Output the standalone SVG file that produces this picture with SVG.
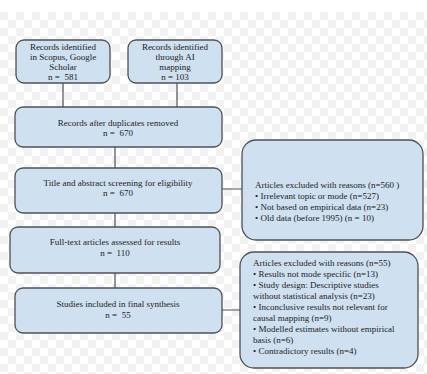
<svg xmlns="http://www.w3.org/2000/svg" width="427" height="374" viewBox="0 0 427 374">
<style>
.box{fill:#cfe0f1;stroke:#4d5257;stroke-width:1.3}
.t{font-family:"Liberation Serif","Times New Roman",serif;font-size:9px;fill:#222}
.c{text-anchor:middle}
.ln{stroke:#4d5257;stroke-width:1.2;fill:none}
</style>
<defs>
<pattern id="chk" width="16" height="16" patternUnits="userSpaceOnUse" y="12">
<rect width="16" height="16" fill="#ffffff"/>
<rect width="8" height="8" fill="#f2f2f2"/>
<rect x="8" y="8" width="8" height="8" fill="#f2f2f2"/>
</pattern>
</defs>
<rect width="427" height="374" fill="#ffffff"/>
<rect y="12" width="427" height="362" fill="url(#chk)"/>
<g id="connectors">
<path class="ln" d="M63 83V107M177 83V107M115 147V168M115 213V227M115 273V288M222 189H242M222 310H240"/>
</g>
<g id="n1">
<rect class="box" x="16" y="40" width="94" height="43" rx="8"/>
<text class="t c" x="63" y="50">Records identified</text>
<text class="t c" x="63" y="60">in Scopus, Google</text>
<text class="t c" x="63" y="70">Scholar</text>
<text class="t c" x="63" y="80" xml:space="preserve">n =  581</text>
</g>
<g id="n2">
<rect class="box" x="128" y="40" width="94" height="43" rx="8"/>
<text class="t c" x="175" y="50">Records identified</text>
<text class="t c" x="175" y="60">through AI</text>
<text class="t c" x="175" y="70">mapping</text>
<text class="t c" x="175" y="80">n = 103</text>
</g>
<g id="n3">
<rect class="box" x="15" y="107" width="207" height="40" rx="8"/>
<text class="t c" x="118" y="126">Records after duplicates removed</text>
<text class="t c" x="118" y="136" xml:space="preserve">n =  670</text>
</g>
<g id="n4">
<rect class="box" x="15" y="168" width="207" height="45" rx="8"/>
<text class="t c" x="118" y="186">Title and abstract screening for eligibility</text>
<text class="t c" x="118" y="196" xml:space="preserve">n =  670</text>
</g>
<g id="n5">
<rect class="box" x="10" y="227" width="210" height="46" rx="8"/>
<text class="t c" x="115" y="245">Full-text articles assessed for results</text>
<text class="t c" x="115" y="256" xml:space="preserve">n =  110</text>
</g>
<g id="n6">
<rect class="box" x="15" y="288" width="207" height="45" rx="8"/>
<text class="t c" x="118" y="307">Studies included in final synthesis</text>
<text class="t c" x="118" y="318" xml:space="preserve">n =  55</text>
</g>
<g id="n7">
<rect class="box" x="242" y="140" width="181" height="100" rx="14"/>
<text class="t" x="255" y="188">Articles excluded with reasons (n=560 )</text>
<text class="t" x="255" y="199">• Irrelevant topic or mode (n=527)</text>
<text class="t" x="255" y="210">• Not based on empirical data (n=23)</text>
<text class="t" x="255" y="221">• Old data (before 1995) (n = 10)</text>
</g>
<g id="n8">
<rect class="box" x="240" y="252" width="178" height="116" rx="14"/>
<text class="t" x="253" y="266">Articles excluded with reasons (n=55)</text>
<text class="t" x="253" y="277">• Results not mode specific (n=13)</text>
<text class="t" x="253" y="288">• Study design: Descriptive studies</text>
<text class="t" x="253" y="299">without statistical analysis (n=23)</text>
<text class="t" x="253" y="310">• Inconclusive results not relevant for</text>
<text class="t" x="253" y="321">causal mapping (n=9)</text>
<text class="t" x="253" y="332">• Modelled estimates without empirical</text>
<text class="t" x="253" y="343">basis (n=6)</text>
<text class="t" x="253" y="354">• Contradictory results (n=4)</text>
</g>
</svg>
